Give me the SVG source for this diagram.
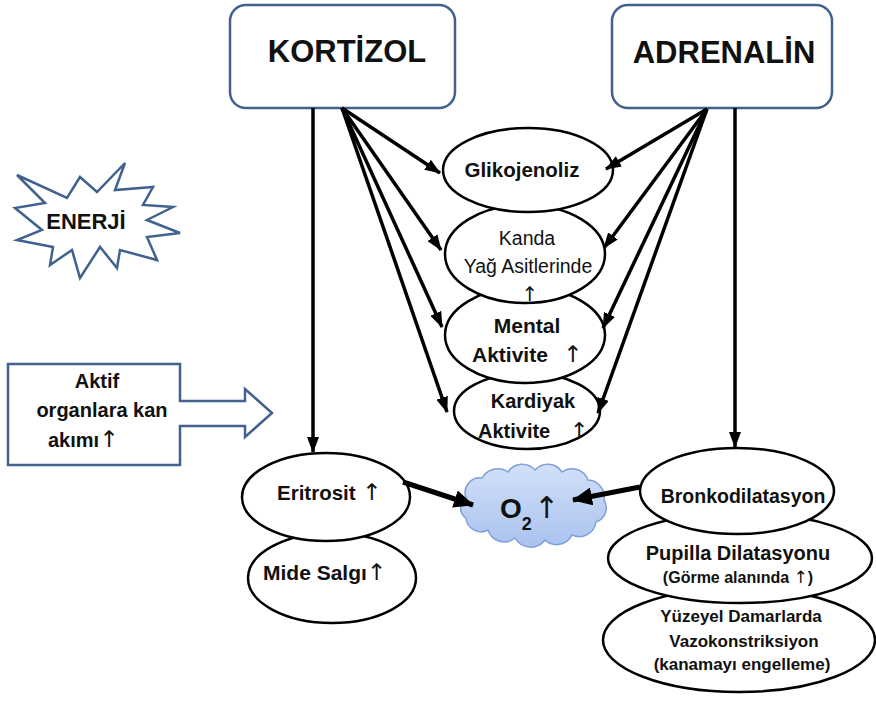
<svg xmlns="http://www.w3.org/2000/svg" width="876" height="701" viewBox="0 0 876 701">
<defs>
<style>
.t{font-family:"Liberation Sans",Arial,"DejaVu Sans",sans-serif;fill:#111;}
.b{font-weight:bold;}
.ar{font-family:"DejaVu Sans",sans-serif;font-weight:normal;}
.box{fill:#fff;stroke:#41628f;stroke-width:2.5;}
.el{fill:#fff;stroke:#000;stroke-width:2.5;}
.thin{stroke:#000;stroke-width:3.5;fill:none;marker-end:url(#ah);}
.thick{stroke:#000;stroke-width:5;fill:none;marker-end:url(#ahb);}
</style>
<marker id="ah" viewBox="0 0 16 12" refX="15" refY="6" markerWidth="16" markerHeight="12" markerUnits="userSpaceOnUse" orient="auto">
<path d="M0,0 L16,6 L0,12 z" fill="#000"/>
</marker>
<marker id="ahb" viewBox="0 0 20 18" refX="19" refY="9" markerWidth="20" markerHeight="18" markerUnits="userSpaceOnUse" orient="auto">
<path d="M0,0 L20,9 L0,18 z" fill="#000"/>
</marker>
<linearGradient id="cg" x1="0" y1="0" x2="0" y2="1">
<stop offset="0" stop-color="#d3e0f8"/>
<stop offset="1" stop-color="#a9c2ef"/>
</linearGradient>
</defs>

<g id="enerji">
<path class="box" d="M17,175 L67,198 L80,177 L97,192 L125,163 L115,190 L153,187 L143,205 L173,207 L147,220 L180,233 L147,237 L157,260 L120,250 L117,268 L100,247 L80,278 L72,250 L50,265 L53,247 L17,240 L42,230 L15,208 L45,203 Z"/>
<text class="t b" x="86" y="229" font-size="22" text-anchor="middle">ENERJİ</text>
</g>

<g id="aktif">
<path class="box" d="M8,364 H180 V401 H245 V389 L272,413 L245,437 V426 H180 V465 H8 Z"/>
<text class="t b" x="97" y="388" font-size="20" text-anchor="middle">Aktif</text>
<text class="t b" x="102" y="417" font-size="20" text-anchor="middle">organlara kan</text>
<text class="t b" x="48" y="447" font-size="20">akımı<tspan class="ar" font-size="23">↑</tspan></text>
</g>

<g id="kortizol">
<rect class="box" x="230" y="5" width="225" height="103" rx="16"/>
<text class="t b" x="347" y="62" font-size="31" text-anchor="middle">KORTİZOL</text>
</g>

<g id="adrenalin">
<rect class="box" x="612" y="5" width="220" height="103" rx="16"/>
<text class="t b" x="724" y="63" font-size="31" text-anchor="middle">ADRENALİN</text>
</g>

<g id="kardiyak">
<ellipse class="el" cx="527" cy="411" rx="73" ry="38"/>
<text class="t b" x="533" y="408" font-size="20" text-anchor="middle">Kardiyak</text>
<text class="t b" x="478" y="438" font-size="20">Aktivite<tspan class="ar" x="570" font-size="22">↑</tspan></text>
</g>

<g id="mental">
<ellipse class="el" cx="525" cy="335" rx="80" ry="48"/>
<text class="t b" x="527" y="333" font-size="21" text-anchor="middle">Mental</text>
<text class="t b" x="472" y="362" font-size="21">Aktivite<tspan class="ar" x="563" font-size="23">↑</tspan></text>
</g>

<g id="kanda">
<ellipse class="el" cx="525" cy="254" rx="80" ry="49"/>
<text class="t" x="527" y="245" font-size="19.5" text-anchor="middle">Kanda</text>
<text class="t" x="528" y="273" font-size="19.5" text-anchor="middle">Yağ Asitlerinde</text>
<text class="t ar" x="530" y="301" font-size="20" text-anchor="middle">↑</text>
</g>

<g id="glikojenoliz">
<ellipse class="el" cx="528" cy="170" rx="85" ry="42"/>
<text class="t b" x="522" y="177" font-size="20.5" text-anchor="middle">Glikojenoliz</text>
</g>

<g id="mide">
<ellipse class="el" cx="332" cy="578" rx="84" ry="45"/>
<text class="t b" x="263" y="580" font-size="21">Mide Salgı<tspan class="ar" font-size="23">↑</tspan></text>
</g>

<g id="eritrosit">
<ellipse class="el" cx="326" cy="497" rx="84" ry="44"/>
<text class="t b" x="277" y="500" font-size="20.5">Eritrosit<tspan class="ar" x="362" font-size="23">↑</tspan></text>
</g>

<g id="yuzeyel">
<ellipse class="el" cx="739" cy="640" rx="136" ry="52"/>
<text class="t b" x="741" y="622" font-size="17" text-anchor="middle">Yüzeyel Damarlarda</text>
<text class="t b" x="744" y="647" font-size="17" text-anchor="middle">Vazokonstriksiyon</text>
<text class="t b" x="742" y="670" font-size="17" text-anchor="middle">(kanamayı engelleme)</text>
</g>

<g id="pupilla">
<ellipse class="el" cx="740" cy="558" rx="132" ry="45"/>
<text class="t b" x="738" y="560" font-size="20" text-anchor="middle">Pupilla Dilatasyonu</text>
<text class="t b" x="738" y="583" font-size="16" text-anchor="middle">(Görme alanında <tspan class="ar" font-size="17">↑</tspan>)</text>
</g>

<g id="bronko">
<ellipse class="el" cx="737" cy="491" rx="97" ry="43"/>
<text class="t b" x="743" y="503" font-size="19.5" text-anchor="middle">Bronkodilatasyon</text>
</g>

<g id="o2">
<path d="M466,498 A15,15 0 0 1 482,478 A18,18 0 0 1 508,472 A17,17 0 0 1 535,470 A17,17 0 0 1 562,472 A17,17 0 0 1 588,480 A17,17 0 0 1 604,500 A15,15 0 0 1 596,522 A17,17 0 0 1 572,535 A17,17 0 0 1 545,540 A18,18 0 0 1 515,538 A17,17 0 0 1 488,530 A15,15 0 0 1 466,518 A12,12 0 0 1 466,498 Z" fill="url(#cg)" stroke="#7f9fd8" stroke-width="1.5"/>
<text class="t b" x="500" y="518" font-size="28">O<tspan font-size="18" dy="12">2</tspan><tspan class="ar" x="534" dy="-12" font-size="30">↑</tspan></text>
</g>

<g id="connectors">
<line class="thin" x1="313" y1="108" x2="313" y2="452" stroke-width="4.5"/>
<line class="thin" x1="735" y1="108" x2="735" y2="447" stroke-width="4.5"/>
<line class="thin" x1="342" y1="108" x2="440" y2="173"/>
<line class="thin" x1="342" y1="108" x2="441" y2="250"/>
<line class="thin" x1="342" y1="108" x2="442" y2="327"/>
<line class="thin" x1="342" y1="108" x2="447" y2="412"/>
<line class="thin" x1="707" y1="109" x2="606" y2="169"/>
<line class="thin" x1="707" y1="109" x2="604" y2="248"/>
<line class="thin" x1="707" y1="109" x2="603" y2="328"/>
<line class="thin" x1="707" y1="109" x2="598" y2="413"/>
<line class="thick" x1="403" y1="482" x2="473" y2="505"/>
<line class="thick" x1="640" y1="487" x2="573" y2="500"/>
</g>
</svg>
